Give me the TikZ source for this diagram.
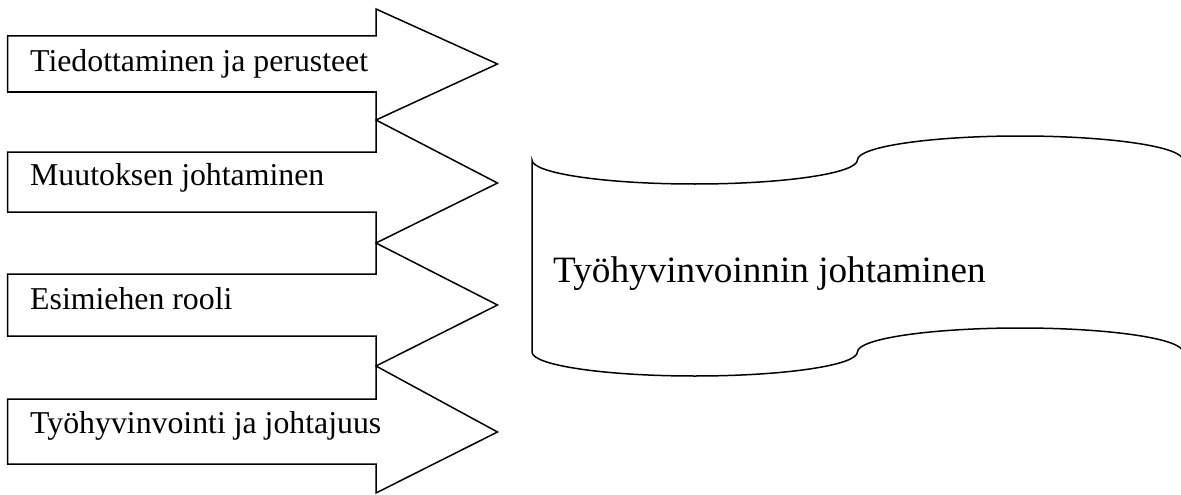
\documentclass[tikz,border=0pt]{standalone}
\usepackage{fontspec}
\setmainfont{Liberation Serif}
\tikzset{
  outline/.style={draw=black, line width=1.5pt, line join=miter, fill=white},
  smalllabel/.style={anchor=base west, inner sep=0pt, font=\fontsize{31.8}{38}\selectfont},
  biglabel/.style={anchor=base west, inner sep=0pt, font=\fontsize{37.2}{44}\selectfont}
}
% block arrow: body top/bottom, head top/bottom, tip height
\newcommand\blockarrow[5]{%
  \draw[outline] (7.5,#1) -- (376,#1) -- (376,#3) -- (497.5,#5) -- (376,#4)
    -- (376,#2) -- (7.5,#2) -- cycle;}
\begin{document}
\begin{tikzpicture}[x=1pt, y=-1pt]
  \clip (0,0) rectangle (1181,495);
  \fill[white] (0,0) rectangle (1181,495);

  % four stacked block arrows
  \blockarrow{36}{92}{9}{120}{64}
  \blockarrow{152}{212}{120}{243}{183}
  \blockarrow{274}{336}{243}{366}{305}
  \blockarrow{399}{464}{366}{493}{432}

  \node[smalllabel] (info)   at (30,71)  {Tiedottaminen ja perusteet};
  \node[smalllabel] (change) at (30,185) {Muutoksen johtaminen};
  \node[smalllabel] (boss)   at (30,309) {Esimiehen rooli};
  \node[smalllabel] (wellb)  at (30,433) {Työhyvinvointi ja johtajuus};

  % punched-tape banner; its right edge runs just past the page
  \draw[outline]
    (532,160) arc[start angle=180, end angle=0,    x radius=162.7, y radius=24]
              arc[start angle=180, end angle=360,  x radius=162.7, y radius=24]
    -- (1182.8,352)
              arc[start angle=0,   end angle=-180, x radius=162.7, y radius=24]
              arc[start angle=0,   end angle=180,  x radius=162.7, y radius=24]
    -- cycle;

  \node[biglabel] (lead) at (553,282) {Työhyvinvoinnin johtaminen};
\end{tikzpicture}
\end{document}
